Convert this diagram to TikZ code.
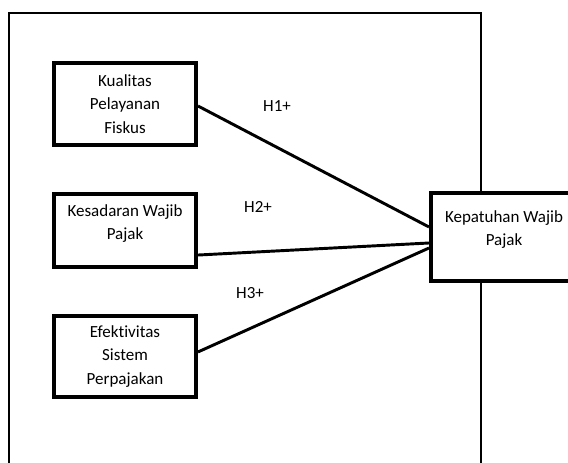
\documentclass[tikz,border=0pt]{standalone}
\usepackage{fontspec}
\setmainfont[Ligatures=NoCommon]{Carlito}

\begin{document}
\begin{tikzpicture}[x=0.75pt, y=-0.75pt,
  every node/.style={font=\fontsize{12.75}{17.6}\selectfont},
  var/.style={draw, fill=white, line width=3pt, minimum width=106.5pt, align=center, inner sep=0pt},
  link/.style={line width=2.2pt}]
\useasboundingbox (0,0) rectangle (568,463);
\clip (0,0) rectangle (568,463);
\draw[line width=1.5pt] (9,13) rectangle (481,480);

\node[var, minimum height=61.5pt] (kpf) at (125,104) {Kualitas\\Pelayanan\\Fiskus};
\node[var, minimum height=54.8pt, text depth=13pt] (kwp) at (125,230.5) {Kesadaran Wajib\\Pajak};
\node[var, minimum height=60.8pt] (esp) at (125,356.5) {Efektivitas\\Sistem\\Perpajakan};
\node[var, minimum width=109.5pt, minimum height=66pt, text depth=13pt] (kep) at (504,237) {Kepatuhan Wajib\\Pajak};

\node (h1) at (277,106) {H1+};
\node (h2) at (258,207) {H2+};
\node (h3) at (250,293) {H3+};

\draw[link] ([yshift=-1.5pt]kpf.east) -- ([yshift=7.5pt]kep.west);
\draw[link] ([yshift=-18.4pt]kwp.east) -- ([yshift=-4.5pt]kep.west);
\draw[link] ([yshift=3.4pt]esp.east) -- ([yshift=-8.25pt]kep.west);
\end{tikzpicture}
\end{document}
